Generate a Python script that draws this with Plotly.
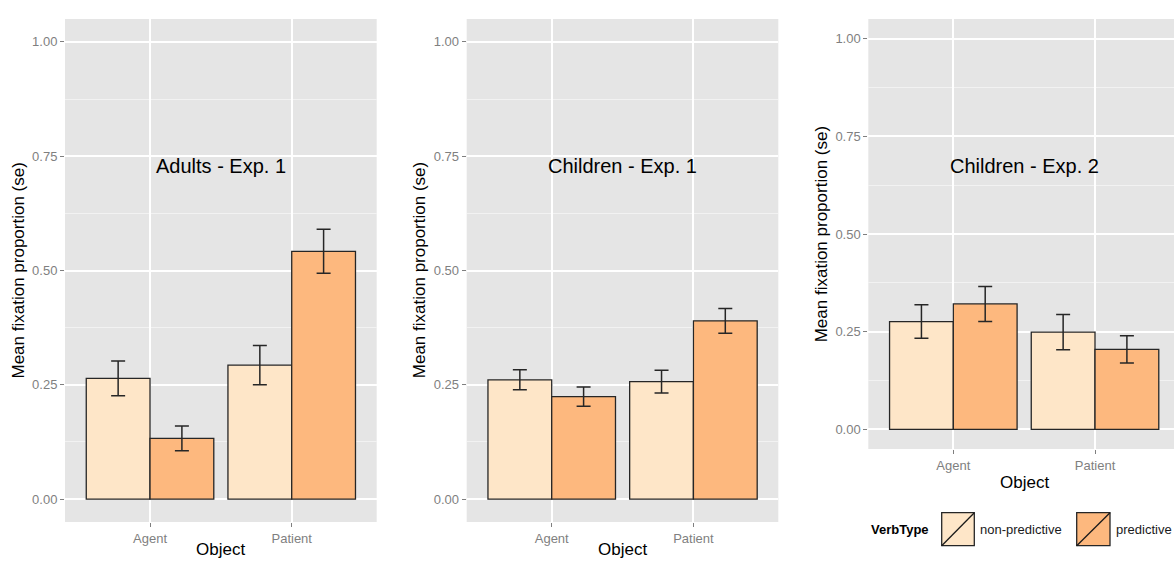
import plotly.graph_objects as go

# ---- data -------------------------------------------------------------
objects = ["Agent", "Patient"]
verb_types = ["non-predictive", "predictive"]
panel_titles = ["Adults - Exp. 1", "Children - Exp. 1", "Children - Exp. 2"]

adults1_nonpred = [0.264, 0.293]
adults1_nonpred_se = [0.038, 0.043]
adults1_pred = [0.133, 0.542]
adults1_pred_se = [0.027, 0.048]

children1_nonpred = [0.261, 0.257]
children1_nonpred_se = [0.022, 0.025]
children1_pred = [0.224, 0.390]
children1_pred_se = [0.021, 0.027]

children2_nonpred = [0.276, 0.249]
children2_nonpred_se = [0.043, 0.045]
children2_pred = [0.321, 0.205]
children2_pred_se = [0.045, 0.035]

y_ticks = [0.0, 0.25, 0.5, 0.75, 1.0]
y_tick_labels = ["0.00", "0.25", "0.50", "0.75", "1.00"]
y_minor = [0.125, 0.375, 0.625, 0.875]

# ---- styling ----------------------------------------------------------
W, H = 1174, 561
FILL = {"non-predictive": "#FEE6C8", "predictive": "#FDB87E"}
PANEL_BG = "#E5E5E5"
TICK_GREY = "#7F7F7F"
FONT = "Liberation Sans, Arial, sans-serif"


def px_x(v):
    return v / W


def px_y(v):
    return 1 - v / H


# panel frames in pixels: (left, right, top, bottom)
frames = [
    (65.0, 376.7, 19.0, 522.0),
    (466.7, 778.3, 19.0, 522.0),
    (868.3, 1180.0, 19.0, 449.0),
]

series = [
    (adults1_nonpred, adults1_nonpred_se, adults1_pred, adults1_pred_se),
    (children1_nonpred, children1_nonpred_se, children1_pred, children1_pred_se),
    (children2_nonpred, children2_nonpred_se, children2_pred, children2_pred_se),
]

fig = go.Figure()
layout = dict(
    width=W, height=H, autosize=False,
    margin=dict(l=0, r=0, t=0, b=0),
    paper_bgcolor="white",
    plot_bgcolor=PANEL_BG,
    barmode="group", bargap=0.1, bargroupgap=0.0,
    showlegend=False,
    font=dict(family=FONT),
)

annotations = []
shapes = []

for i, ((left, right, top, bottom), (np_v, np_se, p_v, p_se)) in enumerate(zip(frames, series)):
    n = "" if i == 0 else str(i + 1)
    xa, ya = "x" + n, "y" + n
    for vals, se, vt in ((np_v, np_se, "non-predictive"), (p_v, p_se, "predictive")):
        fig.add_trace(go.Bar(
            x=objects, y=vals, name=vt, xaxis=xa, yaxis=ya,
            marker=dict(color=FILL[vt], line=dict(color="#262626", width=1.3)),
            error_y=dict(type="data", array=se, visible=True,
                         color="#262626", thickness=1.5, width=7),
            offsetgroup=vt,
        ))

    unit = 141.7  # pixels per category step
    x_lo = -0.6
    right_clip = min(right, W)
    x_hi = x_lo + (right_clip - left) / unit
    layout["xaxis" + n] = dict(
        domain=[px_x(left), px_x(right_clip)],
        anchor=ya, range=[x_lo, x_hi], type="category",
        showgrid=True, gridcolor="white", gridwidth=1.5,
        ticks="outside", ticklen=4, tickcolor=TICK_GREY, tickwidth=1,
        tickfont=dict(size=13, color=TICK_GREY, family=FONT),
        showline=False, zeroline=False, fixedrange=True,
    )
    layout["yaxis" + n] = dict(
        domain=[px_y(bottom), px_y(top)],
        anchor=xa, range=[-0.05, 1.05],
        tickmode="array", tickvals=y_ticks, ticktext=y_tick_labels,
        showgrid=True, gridcolor="white", gridwidth=1.5,
        minor=dict(tickmode="array", tickvals=y_minor, showgrid=True,
                   gridcolor="#F2F2F2", gridwidth=1, ticks=""),
        ticks="outside", ticklen=4, tickcolor=TICK_GREY, tickwidth=1,
        tickfont=dict(size=13, color=TICK_GREY, family=FONT),
        showline=False, zeroline=False, fixedrange=True,
    )

    cx = (left + right) / 2
    # panel title
    annotations.append(dict(
        text=panel_titles[i], xref="paper", yref="paper",
        x=px_x(cx), y=px_y(166), xanchor="center", yanchor="middle",
        showarrow=False, font=dict(size=20, color="black", family=FONT),
    ))
    # x-axis title
    x_title_y = 549 if i < 2 else bottom + 33
    annotations.append(dict(
        text="Object", xref="paper", yref="paper",
        x=px_x(cx), y=px_y(x_title_y), xanchor="center", yanchor="middle",
        showarrow=False, font=dict(size=17, color="black", family=FONT),
    ))
    # y-axis title
    annotations.append(dict(
        text="Mean fixation proportion (se)", xref="paper", yref="paper",
        x=px_x(left - 47), y=px_y((top + bottom) / 2), xanchor="center", yanchor="middle",
        textangle=-90, showarrow=False,
        font=dict(size=17, color="black", family=FONT),
    ))

# ---- legend (VerbType) ------------------------------------------------
legend_y_top, legend_y_bot = 512.7, 545.7
legend_mid = (legend_y_top + legend_y_bot) / 2
annotations.append(dict(
    text="<b>VerbType</b>", xref="paper", yref="paper",
    x=px_x(869), y=px_y(legend_mid), xanchor="left", yanchor="middle",
    showarrow=False, font=dict(size=13, color="black", family=FONT),
))
key_boxes = [(941.7, 974.3, "non-predictive"), (1076.7, 1110.0, "predictive")]
for x0, x1, vt in key_boxes:
    shapes.append(dict(
        type="rect", xref="paper", yref="paper",
        x0=px_x(x0), x1=px_x(x1), y0=px_y(legend_y_bot), y1=px_y(legend_y_top),
        fillcolor=FILL[vt], line=dict(color="#262626", width=1.3),
    ))
    shapes.append(dict(
        type="line", xref="paper", yref="paper",
        x0=px_x(x0), x1=px_x(x1), y0=px_y(legend_y_bot), y1=px_y(legend_y_top),
        line=dict(color="#1A1A1A", width=1.3),
    ))
    annotations.append(dict(
        text=vt, xref="paper", yref="paper",
        x=px_x(x1 + 4), y=px_y(legend_mid), xanchor="left", yanchor="middle",
        showarrow=False, font=dict(size=13, color="#1A1A1A", family=FONT),
    ))

layout["annotations"] = annotations
layout["shapes"] = shapes
fig.update_layout(**layout)

fig.write_html("out.html", config={"displayModeBar": False})
